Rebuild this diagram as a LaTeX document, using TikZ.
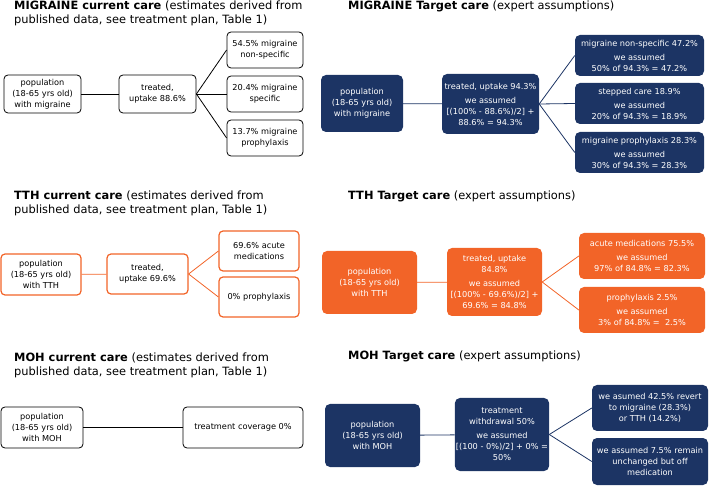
\documentclass[tikz,border=0pt]{standalone}
\usepackage{fontspec}
\setmainfont{DejaVu Sans}
\definecolor{navy}{RGB}{28,52,100}
\definecolor{tthorange}{RGB}{242,100,40}
\tikzset{
  heading/.style={anchor=north west, inner sep=0pt, align=left,
    font=\fontsize{11.4}{13.5}\selectfont},
  curbox/.style={draw=black, line width=0.8pt, rounded corners=4pt, fill=white,
    align=center, inner sep=1pt, font=\fontsize{8.2}{11}\selectfont},
  tthcur/.style={curbox, draw=tthorange, line width=1.2pt},
  tgtbox/.style={fill=navy, text=white, rounded corners=5pt,
    align=center, inner sep=1pt, font=\fontsize{8.2}{11}\selectfont},
  tthtgt/.style={tgtbox, fill=tthorange},
  link/.style={line width=0.8pt}
}
\begin{document}
\begin{tikzpicture}[x=1pt, y=-1pt]
  \useasboundingbox (0,0) rectangle (710,486);

  % headings
  \node[heading] (hmc) at (14,1) {\textbf{MIGRAINE current care} (estimates derived from\\published data, see treatment plan, Table 1)};
  \node[heading] (hmt) at (348,1) {\textbf{MIGRAINE Target care} (expert assumptions)};
  \node[heading] (htc) at (14,191) {\textbf{TTH current care} (estimates derived from\\published data, see treatment plan, Table 1)};
  \node[heading] (htt) at (348,191) {\textbf{TTH Target care} (expert assumptions)};
  \node[heading] (hoc) at (14,353) {\textbf{MOH current care} (estimates derived from\\published data, see treatment plan, Table 1)};
  \node[heading] (hot) at (348,351) {\textbf{MOH Target care} (expert assumptions)};

  % migraine, current care
  \node[curbox, minimum width=77pt, minimum height=38pt] (mpop) at (42.5,94) {population\\(18-65 yrs old)\\with migraine};
  \node[curbox, minimum width=77pt, minimum height=38pt] (mtreat) at (157.5,94) {treated,\\uptake 88.6\%};
  \node[curbox, minimum width=76pt, minimum height=36pt] (mnonspec) at (265,50) {54.5\% migraine\\non-specific};
  \node[curbox, minimum width=76pt, minimum height=36pt] (mspec) at (265,94) {20.4\% migraine\\specific};
  \node[curbox, minimum width=76pt, minimum height=36pt] (mproph) at (265,138) {13.7\% migraine\\prophylaxis};
  \path[link] (mpop) edge (mtreat)
    (mtreat.east) edge (mnonspec.west)
    (mtreat.east) edge (mspec.west)
    (mtreat.east) edge (mproph.west);

  % migraine, target care
  \node[tgtbox, minimum width=82pt, minimum height=57pt] (tmpop) at (362,103.5) {population\\(18-65 yrs old)\\with migraine};
  \node[tgtbox, minimum width=97pt, minimum height=60pt] (tmtreat) at (490.5,104) {treated, uptake 94.3\%\\[3pt]we assumed\\{[(100\% - 88.6\%)/2] +}\\88.6\% = 94.3\%};
  \node[tgtbox, minimum width=129pt, minimum height=41pt] (tmnonspec) at (639.5,55.5) {migraine non-specific 47.2\%\\[3pt]we assumed\\50\% of 94.3\% = 47.2\%};
  \node[tgtbox, minimum width=129pt, minimum height=41pt] (tmstep) at (639.5,103.5) {stepped care 18.9\%\\[3pt]we assumed\\20\% of 94.3\% = 18.9\%};
  \node[tgtbox, minimum width=129pt, minimum height=41pt] (tmproph) at (639.5,152.5) {migraine prophylaxis 28.3\%\\[3pt]we assumed\\30\% of 94.3\% = 28.3\%};
  \path[link, navy] (tmpop) edge (tmtreat)
    (tmtreat.east) edge (tmnonspec.west)
    (tmtreat.east) edge (tmstep.west)
    (tmtreat.east) edge (tmproph.west);

  % TTH, current care
  \node[tthcur, minimum width=80pt, minimum height=41pt] (tpop) at (41,274.5) {population\\(18-65 yrs old)\\with TTH};
  \node[tthcur, minimum width=81pt, minimum height=40pt] (ttreat) at (147.5,274) {treated,\\uptake 69.6\%};
  \node[tthcur, minimum width=80pt, minimum height=40pt] (tacute) at (259,251) {69.6\% acute\\medications};
  \node[tthcur, minimum width=80pt, minimum height=40pt] (tproph) at (259,297) {0\% prophylaxis};
  \path[link, tthorange] (tpop) edge (ttreat)
    (ttreat.east) edge (tacute.west)
    (ttreat.east) edge (tproph.west);

  % TTH, target care
  \node[tthtgt, minimum width=95pt, minimum height=63pt] (ttpop) at (369.5,282.5) {population\\(18-65 yrs old)\\with TTH};
  \node[tthtgt, minimum width=95pt, minimum height=68pt] (tttreat) at (494.5,282) {treated, uptake\\84.8\%\\[3pt]we assumed\\{[(100\% - 69.6\%)/2] +}\\69.6\% = 84.8\%};
  \node[tthtgt, minimum width=126pt, minimum height=46pt] (ttacute) at (642,256) {acute medications 75.5\%\\[3pt]we assumed\\97\% of 84.8\% = 82.3\%};
  \node[tthtgt, minimum width=126pt, minimum height=46pt] (ttproph) at (642,310) {prophylaxis 2.5\%\\[3pt]we assumed\\3\% of 84.8\% = \ 2.5\%};
  \path[link, tthorange] (ttpop) edge (tttreat)
    (tttreat.east) edge (ttacute.west)
    (tttreat.east) edge (ttproph.west);

  % MOH, current care
  \node[curbox, minimum width=82pt, minimum height=41pt] (opop) at (42,427.5) {population\\(18-65 yrs old)\\with MOH};
  \node[curbox, minimum width=120pt, minimum height=41pt] (ocov) at (243,427.5) {treatment coverage 0\%};
  \path[link] (opop) edge (ocov);

  % MOH, target care
  \node[tgtbox, minimum width=95pt, minimum height=63pt] (topop) at (372.5,435.5) {population\\(18-65 yrs old)\\with MOH};
  \node[tgtbox, minimum width=94pt, minimum height=73pt] (towith) at (502,434.5) {treatment\\withdrawal 50\%\\[3pt]we assumed\\{[(100 - 0\%)/2] + 0\% =}\\50\%};
  \node[tgtbox, minimum width=116pt, minimum height=46pt] (torevert) at (650,408) {we asumed 42.5\% revert\\to migraine (28.3\%)\\or TTH (14.2\%)};
  \node[tgtbox, minimum width=116pt, minimum height=47pt] (tooff) at (650,461.5) {we assumed 7.5\% remain\\unchanged but off\\medication};
  \path[link, navy] (topop) edge (towith)
    (towith.east) edge (torevert.west)
    (towith.east) edge (tooff.west);
\end{tikzpicture}
\end{document}
